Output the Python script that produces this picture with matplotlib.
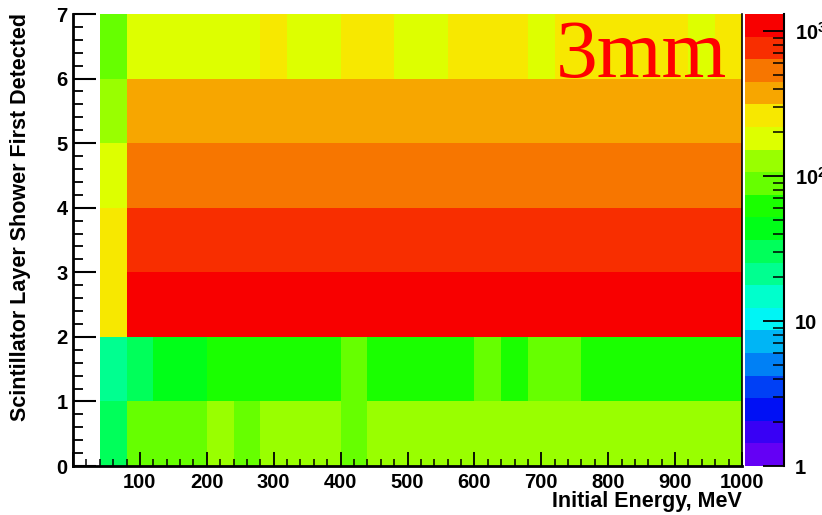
import matplotlib
matplotlib.use("Agg")
import matplotlib.pyplot as plt
import numpy as np
from matplotlib.colors import ListedColormap, LogNorm
import matplotlib.ticker as mticker

# bin edges: initial energy (MeV) and scintillator layer
energy_edges = np.arange(40, 1001, 40)
layer_edges = np.arange(0, 8)

layer0 = [30, 88, 92, 95, 112, 98, 118, 125, 120, 100, 130, 128, 135, 126, 131, 129, 133, 127, 138, 130, 134, 128, 132, 136]
layer1 = [21, 30, 42, 46, 60, 63, 58, 65, 61, 84, 62, 66, 59, 64, 80, 63, 82, 85, 60, 64, 58, 62, 66, 61]
layer2 = [250, 1080, 1120, 1100, 1150, 1090, 1130, 1110, 1070, 1140, 1100, 1120, 1060, 1150, 1090, 1110, 1130, 1080, 1100, 1120, 1090, 1140, 1070, 1110]
layer3 = [260, 760, 780, 750, 790, 770, 740, 800, 760, 780, 770, 750, 790, 760, 780, 740, 770, 790, 760, 750, 780, 770, 760, 790]
layer4 = [185, 540, 520, 560, 530, 550, 510, 545, 535, 525, 560, 540, 515, 550, 530, 545, 520, 555, 535, 540, 525, 550, 530, 545]
layer5 = [125, 380, 370, 390, 365, 385, 375, 360, 395, 370, 380, 390, 365, 375, 385, 370, 380, 360, 390, 375, 385, 370, 380, 365]
layer6 = [90, 190, 200, 185, 205, 195, 235, 190, 200, 230, 240, 195, 205, 230, 225, 240, 190, 235, 245, 230, 225, 240, 200, 235]

counts = np.array([layer0, layer1, layer2, layer3, layer4, layer5, layer6])

# ROOT-like 20 level palette
palette = ['#6400F5', '#3800F5', '#0010F5', '#0040F5', '#0080F5',
           '#00B5F5', '#00F5F5', '#00FFCC', '#00FF90', '#00FF5A',
           '#00FF18', '#1AFF00', '#66FF00', '#99FF00', '#DDFF00',
           '#F7E800', '#F7A600', '#F77600', '#F82E00', '#F80000']
cmap = ListedColormap(palette)
norm = LogNorm(vmin=1, vmax=1310)

plt.rcParams['font.family'] = 'Liberation Sans'
plt.rcParams['font.weight'] = 'bold'
plt.rcParams['mathtext.fontset'] = 'custom'
plt.rcParams['mathtext.rm'] = 'Liberation Sans:bold'
plt.rcParams['mathtext.bf'] = 'Liberation Sans:bold'

fig = plt.figure(figsize=(8.22, 5.15), dpi=100)
W, H = 822, 515
ax = fig.add_axes([73 / W, 1 - 466 / H, (742 - 73) / W, (466 - 14) / H])
cax = fig.add_axes([745 / W, 1 - 466 / H, 39 / W, (466 - 14) / H])

mesh = ax.pcolormesh(energy_edges, layer_edges, counts, cmap=cmap, norm=norm)

ax.set_xlim(0, 1000)
ax.set_ylim(0, 7)
ax.xaxis.set_major_locator(mticker.MultipleLocator(100))
ax.xaxis.set_minor_locator(mticker.MultipleLocator(20))
ax.yaxis.set_major_locator(mticker.MultipleLocator(1))
ax.yaxis.set_minor_locator(mticker.MultipleLocator(0.2))
ax.xaxis.set_major_formatter(mticker.FuncFormatter(lambda v, p: '' if v == 0 else '%d' % v))

ax.tick_params(axis='x', which='major', direction='in', length=10, width=1.3, labelsize=14.5, pad=5)
ax.tick_params(axis='x', which='minor', direction='in', length=5, width=1.1)
ax.tick_params(axis='y', which='major', direction='in', length=16.5, width=1.5, labelsize=14.5, pad=4)
ax.tick_params(axis='y', which='minor', direction='in', length=7, width=1.3)
for lab in ax.get_xticklabels() + ax.get_yticklabels():
    lab.set_fontweight('bold')

ax.spines['top'].set_visible(False)
ax.spines['left'].set_linewidth(2)
ax.spines['bottom'].set_linewidth(2)
ax.spines['right'].set_linewidth(1.2)

# colour bar
cbar = fig.colorbar(mesh, cax=cax)
cbar.outline.set_visible(False)
cax.plot([1, 1], [0, 1], transform=cax.transAxes, color='black', lw=1.5, clip_on=False)
cax.yaxis.set_ticks_position('right')
cbar.set_ticks([1, 10, 100, 1000])
cbar.set_ticklabels(['1', '10', r'$\mathbf{10^{2}}$', r'$\mathbf{10^{3}}$'])
cax.tick_params(which='major', direction='in', length=15, width=1.3, labelsize=14.5, pad=8)
cax.tick_params(which='minor', direction='in', length=8, width=1.1)
for lab in cax.get_yticklabels():
    lab.set_fontweight('bold')

fig.text(742 / W, 1 - 501 / H, 'Initial Energy, MeV', ha='right', va='center',
         fontsize=15.5, fontweight='bold')
fig.text(21 / W, 1 - 13 / H, 'Scintillator Layer Shower First Detected', rotation=90,
         ha='center', va='top', fontsize=15.5, fontweight='bold')

fig.text(556 / W, 1 - 77 / H, '3mm', ha='left', va='baseline', fontsize=60,
         color='#FF0000', family='Liberation Serif', fontweight='normal')

fig.savefig('out.png', dpi=100)
